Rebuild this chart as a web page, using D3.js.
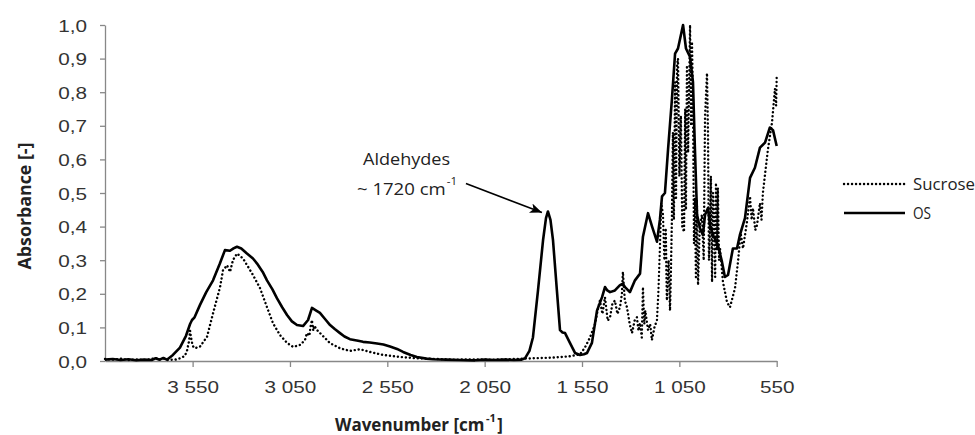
<!DOCTYPE html>
<html>
  <head>
    <meta charset="UTF-8">
    <title>FTIR spectra - Sucrose vs OS</title>
    <script src="https://cdnjs.cloudflare.com/ajax/libs/d3/7.8.5/d3.min.js"></script>
    <style type="text/css">
      body {
        margin: 0px;
        background: #fff;
      }
      .tick text {
        font-family: "Liberation Sans", Arial, sans-serif;
        font-size: 17px;
        fill: #333;
      }
      .domain, .tick line {
        stroke: #888;
        stroke-width: 1.3px;
      }
      .lbl {
        font-family: "Open Sans", sans-serif;
        fill: #222;
      }
      .title {
        font-family: "Open Sans", sans-serif;
        font-weight: bold;
        fill: #222;
      }
      .spectrum {
        fill: none;
        stroke: #000;
        stroke-linejoin: round;
      }
    </style>
  </head>
  <body>
    <div id="chart"></div>
    <script>
      // x ticks (cm-1) and y ticks (absorbance)
      const xTicks = [3550, 3050, 2550, 2050, 1550, 1050, 550];
      const yTicks = [0, 0.1, 0.2, 0.3, 0.4, 0.5, 0.6, 0.7, 0.8, 0.9, 1.0];
      const seriesNames = ["Sucrose", "OS"];

      // [wavenumber, absorbance]
      const sucrose = [
        [4000,0.006],[3960,0.004],[3920,0.007],[3880,0.003],[3840,0.005],[3800,0.003],[3760,0.006],[3740,0.009],
        [3720,0.004],[3700,0.008],[3680,0.003],[3640,0.004],[3615,0.008],[3590,0.015],[3579,0.030],[3568,0.060],
        [3563,0.090],[3558,0.070],[3550,0.045],[3538,0.038],[3512,0.043],[3476,0.072],[3445,0.142],[3409,0.220],
        [3394,0.270],[3373,0.285],[3358,0.265],[3343,0.300],[3322,0.320],[3291,0.305],[3270,0.285],[3240,0.256],
        [3204,0.217],[3168,0.160],[3137,0.112],[3101,0.077],[3065,0.054],[3034,0.042],[2998,0.048],[2973,0.062],
        [2963,0.083],[2950,0.075],[2945,0.100],[2937,0.122],[2930,0.090],[2925,0.105],[2911,0.092],[2885,0.077],
        [2844,0.053],[2793,0.038],[2742,0.030],[2690,0.035],[2639,0.027],[2572,0.018],[2485,0.012],[2398,0.008],
        [2300,0.006],[2200,0.004],[2100,0.005],[2000,0.004],[1900,0.006],[1800,0.008],[1700,0.010],[1612,0.014],
        [1560,0.020],[1535,0.040],[1509,0.070],[1483,0.110],[1470,0.150],[1458,0.180],[1445,0.140],[1432,0.190],
        [1418,0.120],[1406,0.130],[1394,0.170],[1381,0.180],[1368,0.140],[1355,0.160],[1345,0.200],[1340,0.265],
        [1330,0.180],[1319,0.160],[1305,0.110],[1293,0.083],[1280,0.120],[1268,0.130],[1260,0.090],[1252,0.113],
        [1243,0.070],[1237,0.220],[1230,0.110],[1225,0.150],[1211,0.092],[1200,0.110],[1191,0.062],[1178,0.100],
        [1165,0.122],[1158,0.200],[1150,0.335],[1143,0.470],[1134,0.435],[1127,0.300],[1120,0.395],[1114,0.180],
        [1105,0.300],[1098,0.150],[1093,0.277],[1088,0.435],[1083,0.680],[1078,0.420],[1072,0.830],[1067,0.480],
        [1062,0.880],[1057,0.900],[1050,0.550],[1042,0.730],[1035,0.400],[1026,0.384],[1020,0.750],[1016,0.450],
        [1011,0.880],[1005,0.620],[995,1.000],[990,0.700],[985,0.950],[980,0.780],[975,0.350],[970,0.485],
        [965,0.250],[960,0.480],[954,0.226],[945,0.400],[934,0.435],[925,0.300],[918,0.730],[908,0.857],
        [903,0.680],[898,0.300],[893,0.384],[888,0.550],[882,0.235],[877,0.500],[872,0.435],[866,0.250],
        [862,0.530],[856,0.330],[852,0.515],[846,0.300],[841,0.335],[826,0.235],[805,0.175],[790,0.160],
        [764,0.217],[749,0.295],[735,0.380],[723,0.335],[703,0.413],[687,0.490],[679,0.420],[672,0.455],
        [660,0.390],[651,0.405],[636,0.470],[628,0.420],[621,0.500],[595,0.630],[574,0.710],[559,0.810],
        [553,0.760],[550,0.850]
      ];

      const os = [
        [4000,0.004],[3960,0.006],[3920,0.003],[3880,0.005],[3840,0.002],[3800,0.004],[3760,0.003],[3740,0.008],
        [3720,0.004],[3700,0.009],[3682,0.004],[3651,0.018],[3615,0.040],[3584,0.075],[3563,0.110],[3553,0.122],
        [3540,0.130],[3512,0.167],[3480,0.205],[3445,0.240],[3410,0.290],[3384,0.330],[3358,0.328],[3340,0.335],
        [3322,0.340],[3300,0.335],[3271,0.320],[3240,0.305],[3219,0.290],[3190,0.265],[3168,0.240],[3140,0.213],
        [3117,0.187],[3090,0.160],[3065,0.137],[3040,0.118],[3014,0.107],[2983,0.104],[2957,0.122],[2937,0.158],
        [2915,0.150],[2896,0.143],[2870,0.125],[2844,0.107],[2820,0.095],[2793,0.083],[2770,0.073],[2742,0.065],
        [2700,0.060],[2675,0.057],[2640,0.055],[2603,0.052],[2570,0.049],[2536,0.043],[2500,0.036],[2469,0.027],
        [2430,0.018],[2398,0.012],[2350,0.007],[2315,0.005],[2250,0.004],[2177,0.003],[2100,0.002],[2050,0.004],
        [2000,0.003],[1950,0.004],[1900,0.003],[1860,0.004],[1843,0.008],[1820,0.030],[1802,0.070],[1776,0.210],
        [1750,0.360],[1735,0.425],[1725,0.445],[1712,0.420],[1699,0.360],[1679,0.210],[1663,0.092],[1650,0.085],
        [1637,0.083],[1612,0.054],[1586,0.024],[1560,0.018],[1540,0.020],[1524,0.024],[1499,0.054],[1473,0.150],
        [1447,0.190],[1432,0.220],[1420,0.210],[1406,0.205],[1381,0.210],[1355,0.226],[1340,0.230],[1329,0.220],
        [1304,0.205],[1278,0.240],[1252,0.260],[1237,0.370],[1211,0.440],[1190,0.400],[1165,0.355],[1150,0.420],
        [1139,0.490],[1124,0.500],[1108,0.630],[1088,0.780],[1072,0.915],[1057,0.930],[1031,1.000],[1016,0.930],
        [995,0.905],[980,0.830],[970,0.630],[959,0.435],[944,0.395],[929,0.375],[918,0.435],[903,0.455],
        [893,0.405],[877,0.375],[852,0.345],[831,0.295],[816,0.250],[800,0.256],[775,0.335],[754,0.335],
        [739,0.375],[713,0.425],[687,0.545],[662,0.575],[636,0.635],[610,0.650],[585,0.695],[569,0.687],
        [550,0.640]
      ];

      const width = 975;
      const height = 435;
      const margin = {top: 25, right: 198.3, bottom: 74, left: 105};

      const svg = d3.select("#chart")
        .append("svg")
        .attr("width", width)
        .attr("height", height);

      const x = d3.scaleLinear()
        .domain([4000, 550])
        .range([margin.left, width - margin.right]);

      const y = d3.scaleLinear()
        .domain([0, 1])
        .range([height - margin.bottom, margin.top]);

      // comma decimals and space thousands, as in the figure
      const locale = d3.formatLocale({decimal: ",", thousands: " ", grouping: [3], currency: ["", ""]});
      const fmtX = locale.format(",d");
      const fmtY = locale.format(".1f");

      const stretch = 1.22;
      const dotted = "0.1,3.9";

      // x axis
      svg.append("g")
        .attr("transform", `translate(0,${y(0)})`)
        .call(d3.axisBottom(x).tickValues(xTicks).tickFormat(fmtX).tickSize(6).tickSizeOuter(0))
        .call(g => g.selectAll(".tick text")
          .attr("y", 32).attr("dy", 0)
          .attr("transform", `scale(${stretch},1)`));

      // y axis
      svg.append("g")
        .attr("transform", `translate(${x(4000)},0)`)
        .call(d3.axisLeft(y).tickValues(yTicks).tickFormat(fmtY).tickSize(5).tickSizeOuter(0))
        .call(g => g.selectAll(".tick text")
          .attr("x", -18 / stretch).attr("dy", "0.36em")
          .attr("transform", `scale(${stretch},1)`));

      const line = d3.line()
        .x(d => x(d[0]))
        .y(d => y(d[1]));

      svg.append("path")
        .datum(sucrose)
        .attr("class", "spectrum")
        .attr("d", line)
        .attr("stroke-width", 2.4)
        .attr("stroke-linecap", "round")
        .attr("stroke-dasharray", dotted);

      svg.append("path")
        .datum(os)
        .attr("class", "spectrum")
        .attr("d", line)
        .attr("stroke-width", 2.6);

      // axis titles
      const xTitle = svg.append("text")
        .attr("class", "title")
        .attr("x", 335).attr("y", 431)
        .attr("font-size", 17);
      xTitle.append("tspan")
        .text("Wavenumber [cm");
      xTitle.append("tspan")
        .attr("dy", -9).attr("dx", 1.5).attr("font-size", 11)
        .text("-1");
      xTitle.append("tspan")
        .attr("dy", 9).attr("dx", 1.5)
        .text("]");

      svg.append("text")
        .attr("class", "title")
        .attr("transform", "translate(31,206) rotate(-90)")
        .attr("text-anchor", "middle")
        .attr("font-size", 18)
        .attr("textLength", 127).attr("lengthAdjust", "spacingAndGlyphs")
        .text("Absorbance [-]");

      // annotation for the aldehyde band
      svg.append("defs").append("marker")
        .attr("id", "arrow")
        .attr("markerUnits", "userSpaceOnUse")
        .attr("markerWidth", 14).attr("markerHeight", 12)
        .attr("refX", 12).attr("refY", 5)
        .attr("orient", "auto")
        .append("path")
        .attr("d", "M0,0 L12,5 L0,10 L3,5 Z")
        .attr("fill", "#000");

      const peak = [1725, 0.445];
      const tipX = x(peak[0]) - 6;
      const tipY = y(peak[1]) + 1;

      svg.append("line")
        .attr("x1", tipX - 76).attr("y1", tipY - 29)
        .attr("x2", tipX).attr("y2", tipY)
        .attr("stroke", "#000")
        .attr("stroke-width", 1.6)
        .attr("marker-end", "url(#arrow)");

      svg.append("text")
        .attr("class", "lbl")
        .attr("x", 363).attr("y", 165)
        .attr("font-size", 16)
        .attr("textLength", 87).attr("lengthAdjust", "spacingAndGlyphs")
        .text("Aldehydes");
      const noteScale = 1.16;
      const note = svg.append("text")
        .attr("class", "lbl")
        .attr("transform", `scale(${noteScale},1)`)
        .attr("x", 357 / noteScale).attr("y", 195)
        .attr("font-size", 16);
      note.append("tspan")
        .text("~ 1720 cm");
      note.append("tspan")
        .attr("dy", -10).attr("dx", 1).attr("font-size", 10)
        .text("-1");

      // legend
      const legend = svg.append("g").attr("transform", "translate(843,184)");
      seriesNames.forEach((name, i) => {
        const row = legend.append("g").attr("transform", `translate(0,${i * 29})`);
        row.append("line")
          .attr("x1", 1).attr("x2", 62)
          .attr("stroke", "#000")
          .attr("stroke-width", i === 0 ? 2.4 : 2.6)
          .attr("stroke-linecap", i === 0 ? "round" : "butt")
          .attr("stroke-dasharray", i === 0 ? dotted : null);
        row.append("text")
          .attr("class", "lbl")
          .attr("x", 70).attr("y", 6)
          .attr("font-size", 17)
          .attr("textLength", i === 0 ? 62 : 18).attr("lengthAdjust", "spacingAndGlyphs")
          .text(name);
      });
    </script>
  </body>
</html>
